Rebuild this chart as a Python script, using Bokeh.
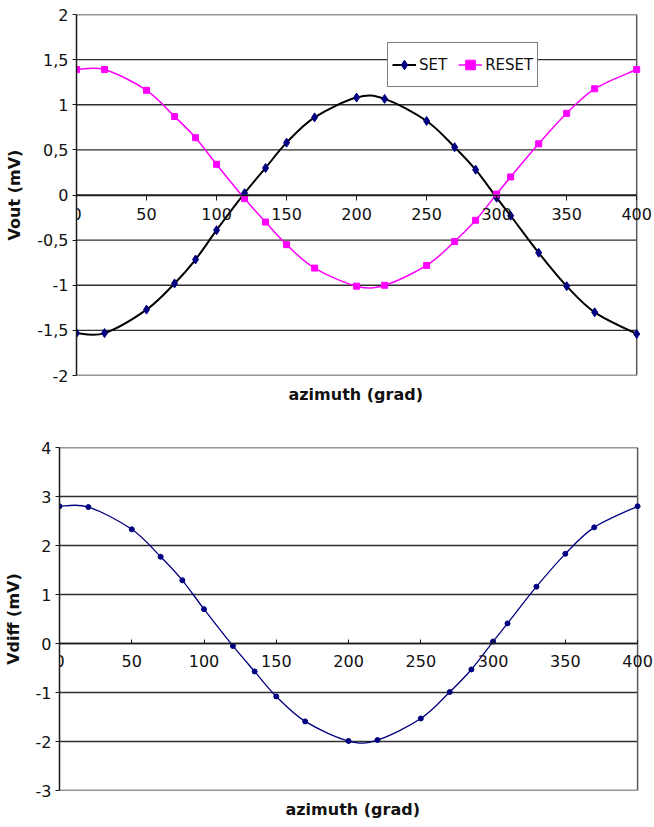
import numpy as np
from bokeh.plotting import figure
from bokeh.models import Range1d, FixedTicker, Title, Legend, LegendItem, ColumnDataSource
from bokeh.layouts import column
from bokeh.embed import file_html
from bokeh.resources import INLINE

# ---------------- data ----------------
azimuth = [0, 20, 50, 70, 85, 100, 120, 135, 150, 170, 200, 220, 250, 270, 285, 300, 310, 330, 350, 370, 400]
set_vout = [-1.53, -1.53, -1.27, -0.98, -0.715, -0.39, 0.02, 0.30, 0.58, 0.86, 1.08, 1.065,
            0.82, 0.53, 0.28, -0.03, -0.23, -0.64, -1.01, -1.30, -1.54]
reset_vout = [1.39, 1.39, 1.16, 0.87, 0.635, 0.34, -0.04, -0.30, -0.55, -0.81, -1.01, -1.00,
              -0.78, -0.515, -0.28, 0.01, 0.20, 0.567, 0.905, 1.177, 1.39]
vdiff = [2.80, 2.785, 2.33, 1.77, 1.29, 0.70, -0.05, -0.57, -1.08, -1.59, -1.99, -1.97,
         -1.53, -0.99, -0.53, 0.04, 0.41, 1.16, 1.83, 2.37, 2.80]

x_ticks = [0, 50, 100, 150, 200, 250, 300, 350, 400]
top_y_ticks = [-2, -1.5, -1, -0.5, 0, 0.5, 1, 1.5, 2]
top_y_labels = ["-2", "-1,5", "-1", "-0,5", "0", "0,5", "1", "1,5", "2"]
bot_y_ticks = [-3, -2, -1, 0, 1, 2, 3, 4]
bot_y_labels = ["-3", "-2", "-1", "0", "1", "2", "3", "4"]

FONT = "DejaVu Sans"
GRID = "#2e2e2e"


def smooth_source(xs, ys):
    """Bezier segments (Catmull-Rom style smoothing) through the data points."""
    x = np.asarray(xs, float)
    y = np.asarray(ys, float)
    n = len(x)
    xp = np.concatenate([[x[0]], x, [x[-1]]])
    yp = np.concatenate([[y[0]], y, [y[-1]]])
    return ColumnDataSource(dict(
        x0=x[:-1], y0=y[:-1], x1=x[1:], y1=y[1:],
        cx0=x[:-1] + (xp[2:n + 1] - xp[0:n - 1]) / 6.0,
        cy0=y[:-1] + (yp[2:n + 1] - yp[0:n - 1]) / 6.0,
        cx1=x[1:] - (xp[3:n + 2] - xp[1:n]) / 6.0,
        cy1=y[1:] - (yp[3:n + 2] - yp[1:n]) / 6.0,
    ))


def style(p, yticks, ylabels, ytitle, tick_out_x, tick_in_x, standoff_x, title_standoff):
    p.background_fill_color = "white"
    p.border_fill_color = "white"
    p.outline_line_color = None
    p.xgrid.visible = False
    p.ygrid.visible = False

    xmin, xmax = x_ticks[0], x_ticks[-1]
    n = len(yticks)
    # horizontal grid lines (plot area spans xmin..xmax; frame has room for the last label)
    p.segment(x0=[xmin] * n, x1=[xmax] * n, y0=yticks, y1=yticks,
              line_color=GRID, line_width=1.3, level="underlay")
    # right border of the plot area
    p.segment(x0=[xmax], x1=[xmax], y0=[yticks[0]], y1=[yticks[-1]],
              line_color="#5a5a5a", line_width=1.5, level="underlay")

    # x axis crossing at y = 0
    p.xaxis.fixed_location = 0
    p.xaxis.bounds = (xmin, xmax)
    p.xaxis.ticker = FixedTicker(ticks=x_ticks)
    p.xaxis.axis_line_color = "#1a1a1a"
    p.xaxis.axis_line_width = 1.3
    p.xaxis.major_tick_line_color = "#1a1a1a"
    p.xaxis.major_tick_out = tick_out_x
    p.xaxis.major_tick_in = tick_in_x
    p.xaxis.minor_tick_line_color = None
    p.xaxis.major_label_standoff = standoff_x
    p.xaxis.major_label_text_font = FONT
    p.xaxis.major_label_text_font_size = "16px"
    p.xaxis.major_label_text_color = "#111111"

    p.yaxis.ticker = FixedTicker(ticks=yticks)
    p.yaxis.major_label_overrides = dict(zip(yticks, ylabels))
    p.yaxis.axis_line_color = "#1a1a1a"
    p.yaxis.axis_line_width = 1.5
    p.yaxis.major_tick_line_color = "#1a1a1a"
    p.yaxis.major_tick_out = 4
    p.yaxis.major_tick_in = 0
    p.yaxis.minor_tick_line_color = None
    p.yaxis.major_label_standoff = 4
    p.yaxis.major_label_text_font = FONT
    p.yaxis.major_label_text_font_size = "16px"
    p.yaxis.major_label_text_color = "#111111"
    p.yaxis.axis_label = ytitle
    p.yaxis.axis_label_text_font = FONT
    p.yaxis.axis_label_text_font_size = "16px"
    p.yaxis.axis_label_text_font_style = "bold"
    p.yaxis.axis_label_text_color = "#111111"
    p.yaxis.axis_label_standoff = 10


def add_xtitle(p, standoff, offset):
    p.add_layout(Title(text="azimuth (grad)", align="left", text_font=FONT,
                       text_font_size="16px", text_font_style="bold",
                       text_color="#111111", standoff=standoff, offset=offset), "below")


# ---------------- top chart ----------------
# frame: x 76..653 px, 1.4 px per grad -> plot area 0..400 ends at 636 px
p1 = figure(width=654, height=412, x_range=Range1d(0, 412), y_range=Range1d(-2, 2),
            output_backend="svg", toolbar_location=None,
            min_border_left=76, min_border_right=1, min_border_top=14, min_border_bottom=37)
p1.frame_align = False
style(p1, top_y_ticks, top_y_labels, "Vout (mV)", 5, 0, 8, 14)
add_xtitle(p1, 14, 212)

set_curve = p1.bezier(x0="x0", y0="y0", x1="x1", y1="y1", cx0="cx0", cy0="cy0",
                      cx1="cx1", cy1="cy1", source=smooth_source(azimuth, set_vout),
                      line_color="black", line_width=2)
reset_curve = p1.bezier(x0="x0", y0="y0", x1="x1", y1="y1", cx0="cx0", cy0="cy0",
                        cx1="cx1", cy1="cy1", source=smooth_source(azimuth, reset_vout),
                        line_color="#ff00ff", line_width=1.5)
set_pts = p1.scatter(azimuth, set_vout, marker="diamond", size=9,
                     fill_color="#000080", line_color="#000080")
reset_pts = p1.scatter(azimuth, reset_vout, marker="square", size=6,
                       fill_color="#ff00ff", line_color="#ff00ff")

legend = Legend(items=[LegendItem(label="SET", renderers=[set_curve, set_pts]),
                       LegendItem(label="RESET", renderers=[reset_curve, reset_pts])],
                location=(311, 288), orientation="horizontal",
                border_line_color="black", border_line_width=1.3,
                background_fill_color="white", background_fill_alpha=1.0,
                padding=4, spacing=11, margin=0, glyph_width=24, glyph_height=35,
                label_height=35, label_standoff=3,
                label_text_font=FONT, label_text_font_size="15px",
                label_text_color="#111111")
p1.add_layout(legend)

# ---------------- bottom chart ----------------
# frame: x 57..653 px, 1.45 px per grad -> plot area 0..400 ends at 637 px
p2 = figure(width=654, height=414, x_range=Range1d(0, 411), y_range=Range1d(-3, 4),
            output_backend="svg", toolbar_location=None,
            min_border_left=57, min_border_right=1, min_border_top=35, min_border_bottom=34)
p2.frame_align = False
style(p2, bot_y_ticks, bot_y_labels, "Vdiff (mV)", 0, 4, 11, 15)
add_xtitle(p2, 15, 226)

p2.bezier(x0="x0", y0="y0", x1="x1", y1="y1", cx0="cx0", cy0="cy0",
          cx1="cx1", cy1="cy1", source=smooth_source(azimuth, vdiff),
          line_color="#000080", line_width=1.3)
p2.scatter(azimuth, vdiff, marker="circle", size=5,
           fill_color="#000080", line_color="#000080")

layout = column(p1, p2, spacing=0)
open("out.html", "w").write(file_html(layout, INLINE))
